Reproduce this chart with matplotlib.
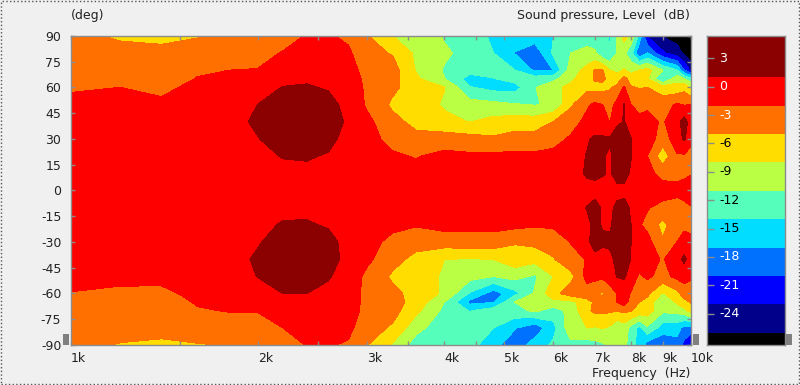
import numpy as np
import matplotlib
matplotlib.use("Agg")
import matplotlib.pyplot as plt
from matplotlib.patches import Rectangle

W, H = 800, 385
BG = "#F0F0F0"
GREY = "#8C8C8C"
TXT = "#222222"

# Frecuencias (Hz) y angulos (deg)
freqs = [1000, 1200, 1400, 1600, 1800, 2000, 2200, 2400, 2600, 2800, 3000, 3300, 3600, 4000,
         4400, 4800, 5200, 5600, 6000, 6400, 6800, 7000, 7200, 7400, 7600, 7800, 8000, 8250, 8500,
         9000, 9500, 9750, 10000]
angles = [90, 80, 70, 65, 60, 50, 40, 30, 20, 10, 0, -10, -20, -30, -40, -50, -60, -65, -70, -80, -90]

# Nivel (dB), una fila por frecuencia
level_db = [
    [-4.5, -4.2, -3.4, -2.9, -2.3, -1.3, -0.8, -0.5, -0.3, -0.2, -0.1, -0.2, -0.3, -0.5, -0.8, -1.2, -2.1, -2.7, -3.3, -4.2, -4.6],
    [-5.3, -4.3, -3.2, -2.6, -2.0, -1.1, -0.6, -0.4, -0.3, -0.2, -0.1, -0.2, -0.3, -0.4, -0.7, -1.5, -2.4, -3.0, -3.5, -4.4, -5.1],
    [-5.4, -4.6, -3.6, -3.1, -2.6, -1.5, -0.6, -0.3, -0.2, -0.1, -0.1, -0.1, -0.2, -0.3, -0.6, -1.4, -2.5, -3.0, -3.5, -4.5, -5.3],
    [-5.2, -3.6, -2.3, -1.9, -1.3, -0.7, -0.3, -0.2, -0.1, -0.1, 0.0, -0.1, -0.1, -0.2, -0.4, -0.8, -1.4, -1.8, -2.2, -3.4, -5.2],
    [-4.6, -3.4, -2.0, -1.6, -1.2, -0.3, 0.2, 0.0, 0.0, 0.0, 0.0, 0.0, 0.0, 0.0, 0.2, -0.2, -1.0, -1.5, -1.9, -3.2, -4.9],
    [-4.2, -3.0, -1.9, -0.6, 0.0, 1.0, 1.4, 0.9, 0.5, 0.2, 0.0, 0.2, 0.4, 0.8, 1.3, 1.05, 0.1, -0.8, -1.9, -3.0, -4.2],
    [-3.3, -1.8, -0.6, 0.2, 1.1, 2.0, 2.5, 2.0, 1.1, 0.4, 0.1, 0.4, 1.2, 2.0, 2.5, 2.0, 1.0, 0.4, 0.0, -2.0, -3.3],
    [-1.8, -0.8, 0.2, 0.7, 1.2, 2.2, 2.6, 2.2, 1.2, 0.5, 0.1, 0.5, 1.2, 2.2, 2.6, 2.2, 1.0, 0.6, 0.1, -0.8, -1.9],
    [-1.7, -0.9, 0.0, 0.4, 0.8, 1.7, 2.2, 1.6, 0.8, 0.3, 0.0, 0.3, 0.8, 1.6, 2.0, 1.2, 0.4, 0.0, -0.2, -0.9, -1.8],
    [-2.6, -1.5, -0.7, -0.3, 0.0, 0.3, 0.6, 0.2, 0.0, 0.0, 0.0, 0.0, 0.1, 0.3, 0.2, -0.2, -0.3, -0.5, -0.7, -1.4, -2.3],
    [-4.8, -4.2, -3.2, -2.8, -2.6, -2.4, -1.3, -1.0, -0.5, -0.2, -0.1, -0.2, -0.5, -1.0, -1.4, -2.7, -3.0, -2.9, -2.9, -3.5, -4.9],
    [-8.0, -5.2, -3.8, -4.0, -4.3, -5.6, -4.0, -2.9, -1.6, -0.5, -0.2, -0.5, -1.3, -2.8, -3.9, -5.5, -4.3, -3.8, -3.9, -5.5, -8.4],
    [-9.0, -8.6, -8.2, -7.5, -6.8, -6.4, -6.0, -4.0, -2.2, -1.0, -0.3, -1.0, -1.8, -3.7, -6.0, -6.6, -6.0, -6.2, -7.3, -10.0, -12.5],
    [-11.3, -10.5, -11.3, -10.9, -7.9, -8.4, -7.2, -3.6, -1.2, -0.6, -0.2, -0.5, -1.1, -3.5, -8.0, -8.4, -8.6, -11.0, -11.8, -13.0, -13.8],
    [-12.0, -12.2, -12.8, -15.5, -13.8, -9.8, -8.1, -3.9, -1.5, -0.6, -0.2, -0.6, -1.2, -3.3, -8.2, -10.0, -14.4, -18.0, -14.2, -12.5, -13.0],
    [-14.8, -14.0, -12.8, -14.2, -15.0, -10.2, -7.0, -4.6, -1.4, -0.6, -0.2, -0.6, -1.2, -3.2, -8.0, -11.0, -18.5, -17.3, -12.5, -14.0, -16.0],
    [-15.0, -17.2, -14.0, -13.0, -15.2, -10.8, -6.5, -3.8, -1.3, -0.6, -0.2, -0.6, -1.2, -4.8, -6.2, -10.0, -15.0, -11.0, -12.0, -16.8, -19.0],
    [-15.5, -19.0, -17.5, -12.5, -11.2, -11.2, -6.5, -3.8, -1.4, -0.6, -0.2, -0.6, -1.7, -4.2, -7.0, -11.5, -10.7, -9.5, -10.5, -19.0, -15.5],
    [-14.1, -13.5, -17.0, -12.0, -8.5, -10.5, -5.0, -3.0, -1.2, -0.5, -0.2, -0.5, -1.5, -3.9, -5.2, -8.0, -6.0, -9.0, -12.5, -15.0, -13.5],
    [-12.5, -11.0, -9.5, -8.5, -7.5, -5.5, -3.2, -1.6, -0.8, -0.4, -0.2, -0.3, -1.0, -1.9, -3.0, -6.0, -3.5, -9.0, -10.0, -9.0, -12.0],
    [-12.0, -10.4, -7.0, -6.5, -5.8, -2.4, -1.2, 0.6, 1.2, 1.4, 0.0, 1.1, 0.5, 0.6, -1.8, -1.0, -3.5, -6.0, -5.5, -8.0, -12.5],
    [-12.6, -10.6, -4.8, -4.6, -6.0, -1.5, -1.2, 1.6, 1.7, 1.6, 0.1, 1.8, 1.5, 1.8, 0.4, -1.0, -4.8, -4.6, -4.5, -8.3, -12.0],
    [-13.4, -13.5, -4.9, -4.4, -6.0, -2.0, -1.0, 1.4, 1.3, 1.2, 0.1, 0.7, 0.8, 1.4, 0.0, -1.5, -5.3, -4.5, -4.4, -7.8, -11.5],
    [-14.2, -14.0, -8.0, -6.0, -5.4, -3.0, -2.1, 1.4, 0.4, 0.7, 0.1, 0.5, 0.6, 1.5, 0.3, -0.5, -3.5, -3.0, -4.6, -8.5, -10.5],
    [-10.8, -11.0, -8.8, -6.5, -4.3, -1.2, 0.5, 2.3, 2.3, 2.0, 0.2, 1.5, 2.2, 2.3, 1.8, 1.1, -1.9, -1.9, -5.0, -10.5, -10.5],
    [-6.8, -10.5, -7.8, -4.0, -1.7, 1.1, 1.1, 2.3, 2.3, 2.0, 0.2, 1.9, 2.3, 2.5, 2.0, 1.4, -1.0, -0.5, -4.4, -9.5, -10.0],
    [-9.0, -13.0, -9.0, -6.5, -4.7, -2.0, -0.5, 1.1, 1.1, 0.6, 0.0, 0.6, 1.0, 1.0, 0.9, -0.5, -2.2, -3.4, -4.9, -12.0, -13.0],
    [-15.0, -20.0, -8.0, -6.2, -5.2, -3.2, -1.0, -0.2, -0.2, 0.0, -0.1, -1.0, -1.8, -0.5, -0.3, -2.5, -3.6, -5.0, -6.0, -15.0, -15.0],
    [-23.3, -17.0, -7.0, -7.8, -5.0, -2.6, -1.0, -0.5, -2.0, -1.0, -0.2, -1.8, -2.7, -1.0, -0.8, -1.5, -4.4, -6.0, -6.5, -11.5, -18.5],
    [-26.2, -22.5, -11.0, -14.5, -7.0, -3.0, -2.4, -3.5, -7.0, -3.2, -0.5, -3.0, -6.0, -4.7, -2.3, -3.0, -8.4, -11.5, -10.5, -15.5, -19.5],
    [-27.0, -25.0, -14.0, -9.0, -7.0, -1.7, 0.0, -0.5, -2.3, -3.0, -1.0, -3.5, -3.0, -2.0, 0.0, -1.2, -6.0, -7.5, -10.0, -16.0, -18.0],
    [-28.0, -26.5, -20.0, -11.0, -6.0, -2.2, 2.2, 1.4, -2.5, -2.8, -0.5, -3.0, -2.6, -1.0, 1.6, -1.0, -3.5, -6.0, -9.0, -18.0, -21.0],
    [-28.0, -28.0, -24.0, -13.0, -8.5, -2.0, -0.5, -1.5, -2.7, -2.2, -0.5, -2.2, -2.6, -1.5, -0.8, -1.6, -3.5, -4.8, -7.0, -18.0, -24.0],
]

# Bandas de color
levels = [-40, -26, -23, -20, -17, -14, -11, -8, -5, -2, 1, 20]
colors = ["#000000", "#00008B", "#0000FF", "#0070FF", "#00DDFF", "#55FFBB",
          "#BBFF44", "#FFDD00", "#FF7000", "#FF0000", "#8B0000"]
bar_top = 5.35
bar_bottom = -27.3

x_major = [1000, 2000, 3000, 4000, 5000, 6000, 7000, 8000, 9000, 10000]
x_labels = ["1k", "2k", "3k", "4k", "5k", "6k", "7k", "8k", "9k", "10k"]
x_minor = [1500, 2500, 3500, 4500]
y_ticks = [90, 75, 60, 45, 30, 15, 0, -15, -30, -45, -60, -75, -90]
bar_ticks = [3, 0, -3, -6, -9, -12, -15, -18, -21, -24]
bar_text = ["white", "white", "white", "black", "black", "black", "black", "white", "white", "white"]


def caja(x0, y0, x1, y1):
    # pasa pixeles de la imagen a fracciones de figura
    return [x0 / W, 1 - y1 / H, (x1 - x0) / W, (y1 - y0) / H]


plt.rcParams["font.family"] = "DejaVu Sans"
plt.rcParams["font.size"] = 9

fig = plt.figure(figsize=(W / 100, H / 100), dpi=100, facecolor=BG)

ax = fig.add_axes(caja(71, 36, 691, 345))
z = np.array(level_db).T
cs = ax.contourf(freqs, angles, z, levels=levels, colors=colors)
cs.set_edgecolor("face")
cs.set_linewidth(0.3)
ax.set_xscale("log")
ax.set_xlim(1000, 10000)
ax.set_ylim(-90, 90)
ax.set_xticks(x_major, x_labels, ha="left")
ax.set_xticks(x_minor, minor=True)
ax.set_xticklabels([], minor=True)
ax.set_yticks(y_ticks, [str(a) for a in y_ticks])
ax.tick_params(axis="x", which="both", direction="in", top=True, length=3, width=1, color=GREY,
               labelcolor=TXT, pad=5)
ax.tick_params(axis="y", direction="in", right=True, length=3, width=1, color=GREY,
               labelcolor=TXT, pad=7)
for s in ax.spines.values():
    s.set_color(GREY)
    s.set_linewidth(1)

# Barra de colores
cb = fig.add_axes(caja(707, 36, 785, 345))
edges = [bar_bottom] + levels[1:-1] + [bar_top]
for i in range(len(colors)):
    cb.fill_between([0, 1], edges[i], edges[i + 1], color=colors[i], linewidth=0)
cb.set_xlim(0, 1)
cb.set_ylim(bar_bottom, bar_top)
cb.set_xticks([])
cb.set_yticks(bar_ticks, [])
cb.tick_params(axis="y", direction="in", length=5, width=1, color=GREY)
for v, c in zip(bar_ticks, bar_text):
    cb.text(0.16, v, str(v), color=c, ha="left", va="center")
for s in cb.spines.values():
    s.set_color(GREY)
    s.set_linewidth(1)

# Textos de arriba y abajo
fig.text(71 / W, 1 - 16 / H, "(deg)", color=TXT, ha="left", va="center")
fig.text(690 / W, 1 - 16 / H, "Sound pressure, Level  (dB)", color=TXT, ha="right", va="center")
fig.text(690 / W, 1 - 373 / H, "Frequency  (Hz)", color=TXT, ha="right", va="center")

# Deslizadores grises
for x0, x1 in [(63, 69), (693, 699), (786, 792)]:
    b = caja(x0, 334, x1, 345)
    fig.patches.append(Rectangle((b[0], b[1]), b[2], b[3], transform=fig.transFigure,
                                 facecolor="#808080", edgecolor="none"))

# Borde punteado
fig.patches.append(Rectangle((0.001, 0.002), 0.998, 0.996, transform=fig.transFigure, fill=False,
                             edgecolor="#555555", linestyle=":", linewidth=1))

fig.savefig("out.png", dpi=100, facecolor=BG)
